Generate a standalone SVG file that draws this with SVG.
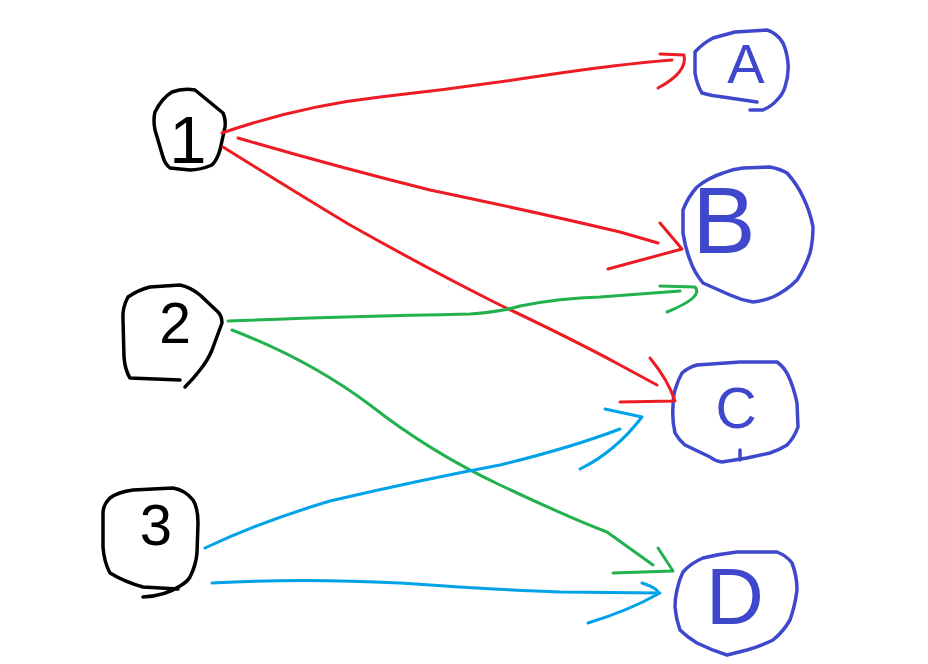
<svg xmlns="http://www.w3.org/2000/svg" width="928" height="664" viewBox="0 0 928 664">
<style>
  .ol{fill:none;stroke-width:3.5;stroke-linejoin:round;stroke-linecap:round}
  .k{stroke:#000000}
  .b{stroke:#3F48CC}
  .lk{font-family:"Liberation Sans",Arial,sans-serif;fill:#000000;text-anchor:middle}
  .lb{font-family:"Liberation Sans",Arial,sans-serif;fill:#3F48CC;text-anchor:middle}
  .c{fill:none;stroke-width:3;stroke-linejoin:round;stroke-linecap:round}
  .red{stroke:#ED1C24}
  .grn{stroke:#22B14C}
  .cyn{stroke:#00A2E8}
</style>
<rect x="0" y="0" width="928" height="664" fill="#ffffff"/>
<g id="node-1">
  <path class="ol k" d="M172,92 Q183,88 195,90 L223,113 Q226,120 225,127 L220,150 Q217,160 212,165 Q200,170 190,170 L170,168 Q165,164 163,157 L155,130 Q153,120 155,112 Q162,98 172,92 Z"/>
  <text class="lk" x="188" y="163" font-size="67">1</text>
</g>
<g id="node-2">
  <path class="ol k" d="M185,387 Q194,378 200,370 Q208,360 212,350 L222,323 Q222,316 218,312 L200,295 Q190,287 180,285 L150,287 Q138,290 128,297 Q122,308 123,320 L124,357 Q125,370 130,378 L180,380"/>
  <text class="lk" x="175" y="343" font-size="57">2</text>
</g>
<g id="node-3">
  <path class="ol k" d="M143,597 Q165,596 180,586 Q187,582 190,577 Q196,565 197,553 L198,523 Q198,508 193,500 Q185,490 173,488 L133,490 Q118,492 110,498 Q103,505 103,513 L103,547 Q104,562 110,573 Q125,582 143,587 L178,589"/>
  <text class="lk" x="156" y="545" font-size="58">3</text>
</g>
<g id="node-A">
  <path class="ol b" d="M750,110 L763,110 Q772,106 777,100 Q783,94 785,87 Q789,75 788,63 Q787,52 783,43 Q777,33 767,30 L735,32 L713,38 Q702,44 695,52 L695,73 Q697,85 702,93 Q712,96 723,97 L757,102"/>
  <text class="lb" x="746" y="83" font-size="56">A</text>
</g>
<g id="node-B">
  <path class="ol b" d="M723,173 Q733,169 743,168 L770,167 Q780,169 787,173 Q797,184 803,197 Q810,211 813,227 Q813,241 810,253 Q805,268 797,280 Q786,291 773,297 Q763,301 753,302 Q741,300 730,295 L703,283 Q694,272 690,260 Q685,247 683,233 L683,210 Q688,197 697,187 Q708,178 723,173 Z"/>
  <text class="lb" x="724" y="253" font-size="95">B</text>
</g>
<g id="node-C">
  <path class="ol b" d="M682,373 Q689,367 697,365 L740,362 L777,362 Q784,367 788,375 Q794,388 797,403 L798,427 Q794,438 787,445 Q779,450 770,453 L747,458 L722,462 Q715,461 710,457 L685,445 Q679,440 675,433 Q672,420 673,407 Q673,397 675,390 Q678,380 682,373 Z"/>
  <path class="ol b" d="M740,450 L740,460"/>
  <text class="lb" x="736" y="428" font-size="57">C</text>
</g>
<g id="node-D">
  <path class="ol b" d="M677,590 Q679,580 683,572 Q691,563 703,558 Q719,554 737,552 L777,552 Q787,556 792,563 Q797,576 797,590 Q795,606 790,620 Q783,632 773,640 Q761,646 747,650 L727,655 Q711,650 697,643 Q687,637 680,630 Q676,619 675,607 Q675,598 677,590 Z"/>
  <text class="lb" x="735" y="624" font-size="80">D</text>
</g>
<g id="connectors">
  <path class="c red" d="M222,133 Q300,106 380,97 Q460,88 540,76 Q620,64 672,60"/>
  <path class="c red" d="M660,54 L684,55 Q688,72 658,88"/>
  <path class="c red" d="M238,138 Q330,165 430,190 Q540,213 620,232 L658,243"/>
  <path class="c red" d="M660,223 L682,249 L608,269"/>
  <path class="c red" d="M223,147 Q300,195 350,225 Q430,270 500,305 Q570,338 620,365 L657,385"/>
  <path class="c red" d="M650,358 Q668,380 675,401 L620,402"/>
  <path class="c grn" d="M228,321 Q330,317 470,314 Q500,312 520,306 Q560,298 600,297 L680,291"/>
  <path class="c grn" d="M660,286 L695,287 Q704,297 667,312"/>
  <path class="c grn" d="M232,330 Q310,360 370,405 Q430,452 500,485 Q570,518 607,532 L653,565"/>
  <path class="c grn" d="M658,548 L673,571 L613,573"/>
  <path class="c cyn" d="M205,548 Q260,522 330,501 Q420,480 500,465 Q570,448 620,429"/>
  <path class="c cyn" d="M605,409 L642,417 Q615,452 580,469"/>
  <path class="c cyn" d="M212,583 Q300,578 400,583 Q500,590 560,592 L660,593"/>
  <path class="c cyn" d="M642,583 Q660,589 658,594 Q630,610 588,623"/>
</g>
</svg>
